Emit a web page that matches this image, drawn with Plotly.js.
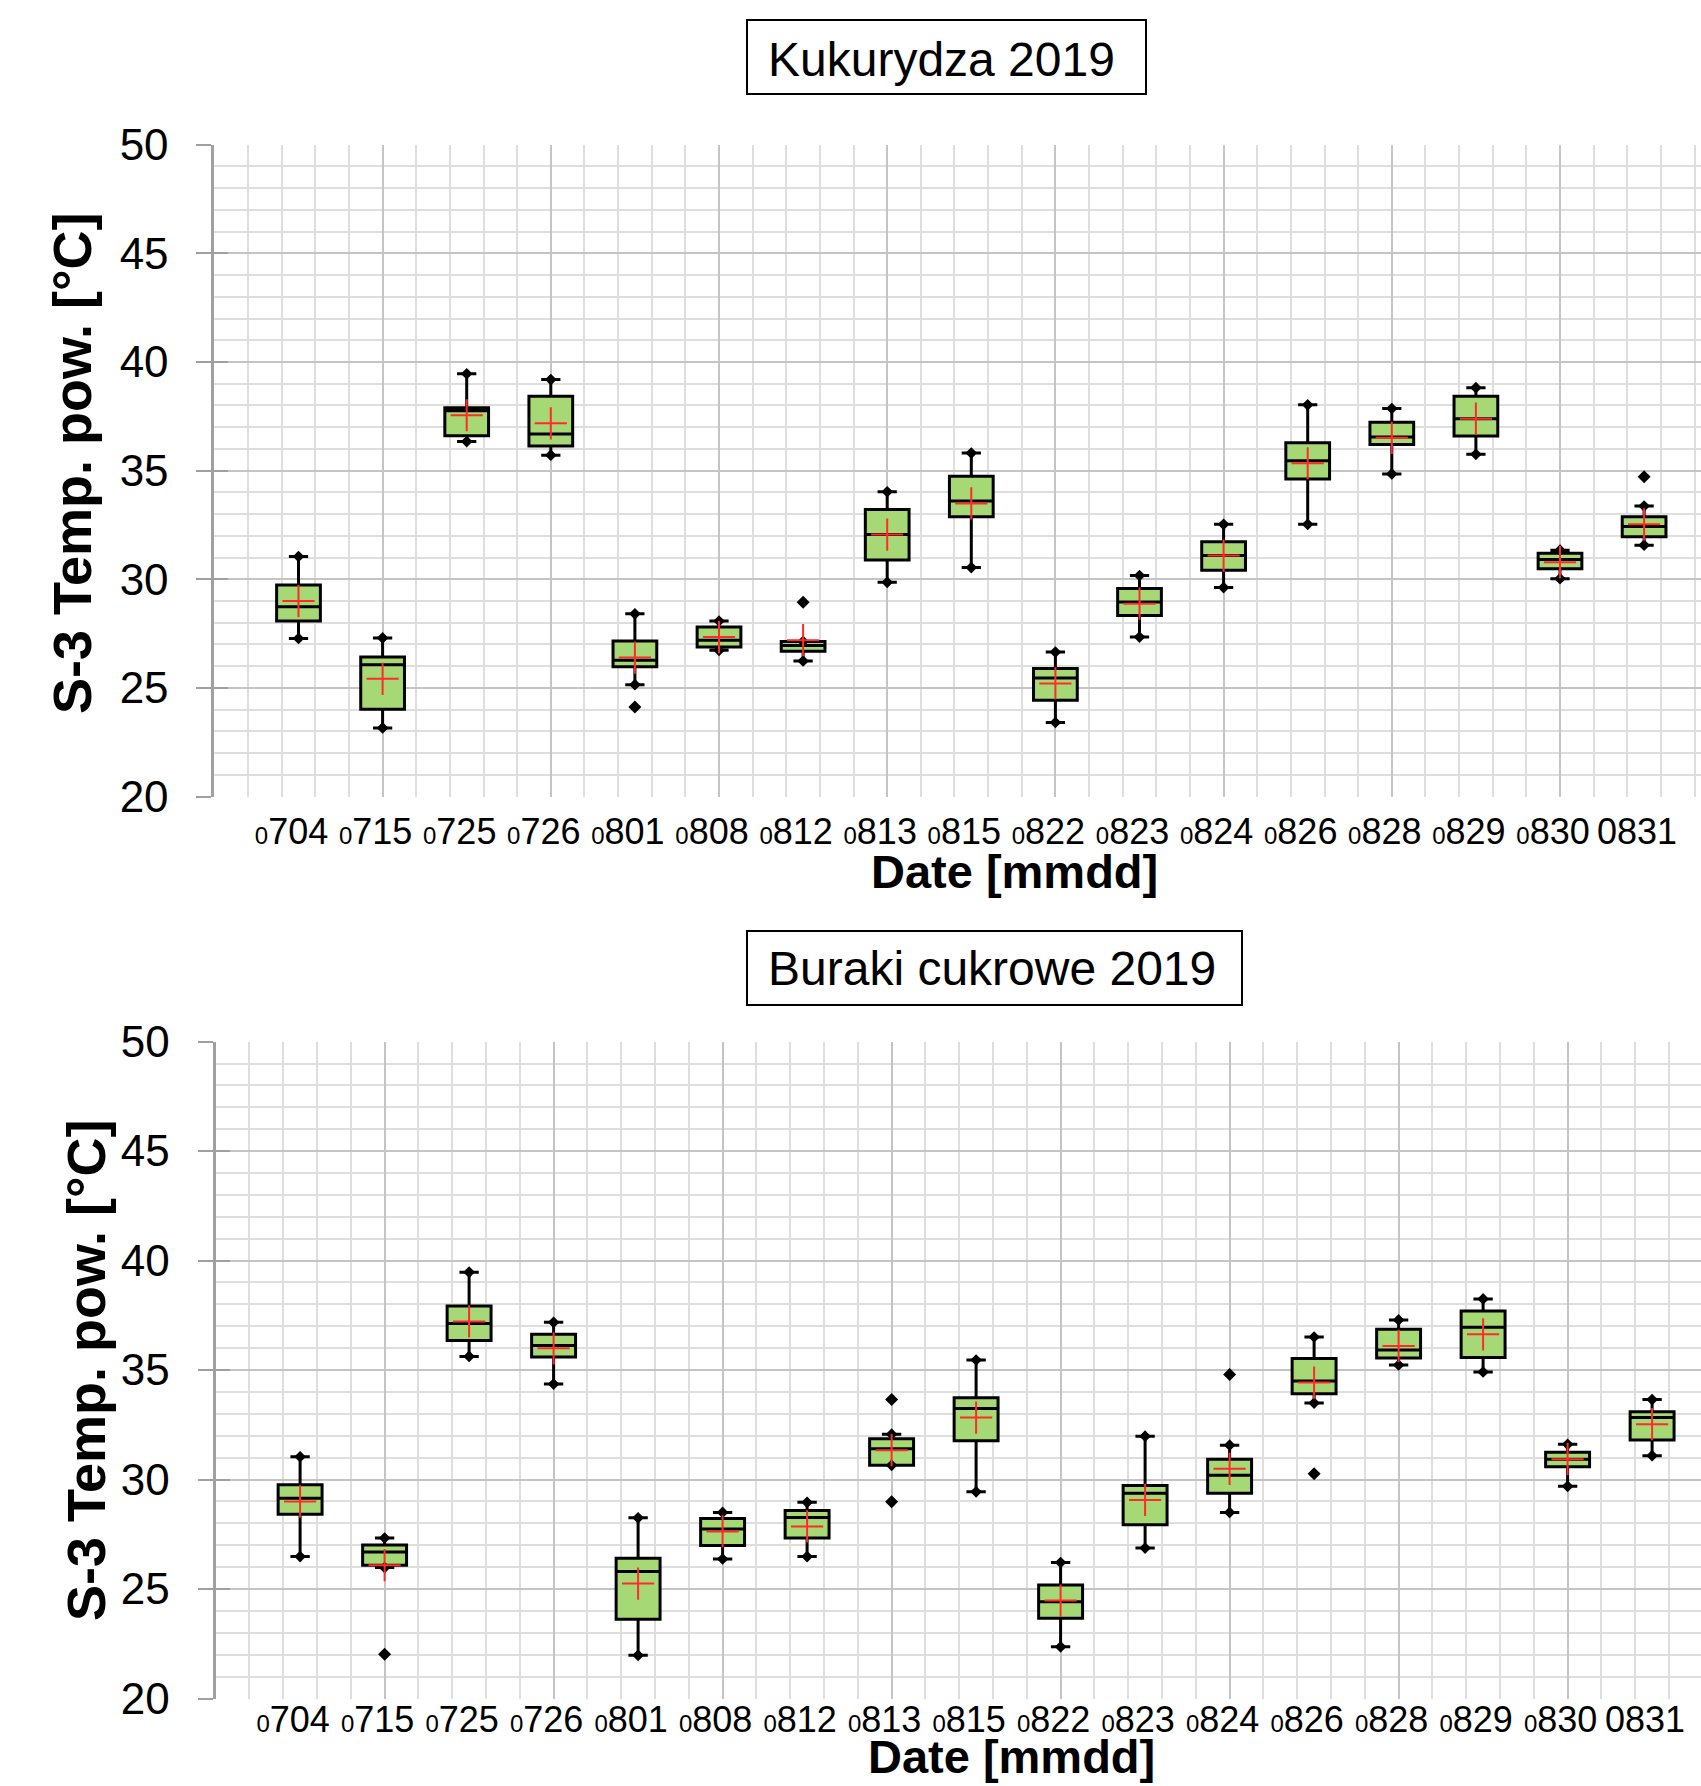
<!DOCTYPE html>
<html>
<head>
<meta charset="utf-8">
<script src="https://cdn.plot.ly/plotly-3.0.1.min.js"></script>
<style>html,body{margin:0;padding:0;background:#fff;}#chart{width:1701px;height:1786px;}</style>
</head>
<body>
<div id="chart"></div>
<script>
// ---- data ----
const dates = ['0704','0715','0725','0726','0801','0808','0812','0813','0815','0822','0823','0824','0826','0828','0829','0830','0831'];

// Kukurydza 2019
const kLower  = [27.28, 23.16, 36.34, 35.71, 25.15, 26.73, 26.24, 29.86, 30.54, 23.41, 27.34, 29.62, 32.53, 34.85, 35.75, 30.03, 31.57];
const kQ1     = [28.08, 24.02, 36.61, 36.14, 25.97, 26.89, 26.69, 30.89, 32.88, 24.43, 28.33, 30.42, 34.62, 36.20, 36.59, 30.48, 31.96];
const kMedian = [28.74, 26.07, 37.76, 36.69, 26.28, 27.20, 26.95, 32.06, 33.60, 25.46, 28.96, 31.09, 35.46, 36.55, 37.39, 30.91, 32.43];
const kQ3     = [29.74, 26.42, 37.90, 38.42, 27.16, 27.81, 27.14, 33.21, 34.74, 25.89, 29.58, 31.73, 36.28, 37.23, 38.42, 31.20, 32.88];
const kUpper  = [31.05, 27.30, 39.46, 39.19, 28.41, 28.08, 27.14, 34.03, 35.81, 26.65, 30.17, 32.53, 38.03, 37.86, 38.82, 31.34, 33.37];
const kMean   = [29.00, 25.42, 37.55, 37.18, 26.40, 27.34, 27.20, 32.06, 33.49, 25.21, 28.88, 31.09, 35.34, 36.51, 37.39, 30.79, 32.53];
const kOutDates  = ['0801', '0812', '0831'];
const kOutValues = [24.12, 28.94, 34.72];

// Buraki cukrowe 2019
const bLower  = [26.48, 25.98, 35.62, 34.36, 21.97, 26.37, 26.48, 30.65, 29.44, 22.36, 26.87, 28.50, 33.49, 35.23, 34.91, 29.69, 31.09];
const bQ1     = [28.41, 26.09, 36.35, 35.60, 23.62, 26.99, 27.33, 30.65, 31.77, 23.67, 27.93, 29.37, 33.92, 35.55, 35.57, 30.58, 31.80];
const bMedian = [29.14, 26.69, 37.13, 36.12, 25.80, 27.74, 28.27, 31.41, 33.24, 24.42, 29.37, 30.19, 34.50, 35.92, 36.95, 30.93, 32.83];
const bQ3     = [29.76, 27.01, 37.93, 36.63, 26.41, 28.22, 28.59, 31.86, 33.74, 25.18, 29.73, 30.93, 35.53, 36.86, 37.70, 31.25, 33.10];
const bUpper  = [31.04, 27.33, 39.47, 37.18, 28.25, 28.50, 28.96, 32.07, 35.46, 26.21, 31.98, 31.57, 36.51, 37.29, 38.25, 31.61, 33.65];
const bMean   = [29.00, 26.09, 37.22, 35.99, 25.25, 27.63, 27.86, 31.34, 32.83, 24.47, 29.07, 30.49, 34.43, 36.10, 36.63, 30.93, 32.53];
const bOutDates  = ['0715', '0813', '0813', '0824', '0826'];
const bOutValues = [22.02, 33.65, 28.98, 34.80, 30.26];

const titles = ['Kukurydza 2019', 'Buraki cukrowe 2019'];
const xTitle = 'Date [mmdd]';
const yTitle = 'S-3 Temp. pow. [°C]';

// ---- styling ----
const FONT = 'Liberation Sans, Arial, sans-serif';
const W = 1701, H = 1786;
const idx = dates.map((d, i) => i);
const tickText = dates.map(d => d === '0831' ? d :
  '<span style="font-size:24px">' + d.slice(0, 1) + '</span>' + d.slice(1));

function boxTraces(xa, ya, lower, q1, med, q3, upper, mean, outD, outV) {
  return [
    {type: 'box', xaxis: xa, yaxis: ya, x: idx, lowerfence: lower, q1: q1, median: med, q3: q3, upperfence: upper,
     width: 0.52, whiskerwidth: 0.44, fillcolor: '#a6d975', line: {color: '#000', width: 3},
     boxpoints: false, hoverinfo: 'skip'},
    {type: 'scatter', mode: 'markers', xaxis: xa, yaxis: ya, x: idx, y: upper,
     marker: {symbol: 'diamond', size: 9, color: '#000'}, hoverinfo: 'skip'},
    {type: 'scatter', mode: 'markers', xaxis: xa, yaxis: ya, x: idx, y: lower,
     marker: {symbol: 'diamond', size: 9, color: '#000'}, hoverinfo: 'skip'},
    {type: 'scatter', mode: 'markers', xaxis: xa, yaxis: ya, x: outD.map(d => dates.indexOf(d)), y: outV,
     marker: {symbol: 'diamond', size: 10, color: '#000'}, hoverinfo: 'skip'},
    {type: 'scatter', mode: 'markers', xaxis: xa, yaxis: ya, x: idx, y: mean,
     marker: {symbol: 'cross-thin', size: 23, color: '#ff2b2b', line: {color: '#ff2b2b', width: 2}}, hoverinfo: 'skip'}
  ];
}

const data = [].concat(
  boxTraces('x', 'y', kLower, kQ1, kMedian, kQ3, kUpper, kMean, kOutDates, kOutValues),
  boxTraces('x2', 'y2', bLower, bQ1, bMedian, bQ3, bUpper, bMean, bOutDates, bOutValues),
  [
    {type: 'scatter', xaxis: 'x3', yaxis: 'y', x: [], y: []},
    {type: 'scatter', xaxis: 'x', yaxis: 'y3', x: [], y: []},
    {type: 'scatter', xaxis: 'x4', yaxis: 'y2', x: [], y: []},
    {type: 'scatter', xaxis: 'x2', yaxis: 'y4', x: [], y: []}
  ]
);

// plot area positions (px from top-left)
const P = [
  {left: 214.4, top: 144.7, bottom: 796.6, catPx: 84.1, labelUp: 0, tickStand: 10,
   ytX: 72, ytY: 463, xtX: 1014, xtY: 871, box: [747, 20, 1146, 94], tX: 767, tY: 59},
  {left: 215.6, top: 1041.6, bottom: 1698.5, catPx: 84.5, labelUp: 3.5, tickStand: 0,
   ytX: 86, ytY: 1370, xtX: 1011, xtY: 1756, box: [747, 931, 1242, 1005], tX: 767, tY: 969}
];

function labelAxis(p, anchorY) {
  return {domain: [p.left / W, 1], anchor: 'free', position: 1 - (p.bottom - p.labelUp) / H,
    range: [-1, (W - p.left) / p.catPx - 1],
    tickmode: 'array', tickvals: idx, ticktext: tickText, ticks: '', showgrid: false, zeroline: false,
    showline: false, ticklabelstandoff: p.tickStand, ticklabelshift: -7,
    tickfont: {family: FONT, size: 36, color: '#000'}, fixedrange: true};
}
function gridXAxis(p, over, anchor) {
  return {overlaying: over, anchor: anchor, range: [-1, (W - p.left) / p.catPx - 1],
    tickmode: 'linear', tick0: 1, dtick: 2, showticklabels: false, ticks: '', zeroline: false,
    showgrid: true, gridcolor: '#c4c4c4', gridwidth: 2,
    minor: {tickmode: 'linear', tick0: -1, dtick: 0.4, showgrid: true, gridcolor: '#dedede', gridwidth: 2, ticks: ''},
    fixedrange: true};
}
function valueAxis(p, anchor) {
  return {domain: [1 - p.bottom / H, 1 - p.top / H], anchor: anchor, range: [20, 50],
    tickmode: 'linear', tick0: 20, dtick: 5, ticks: 'outside', ticklen: 15, tickwidth: 2, tickcolor: '#a0a0a0',
    ticklabelstandoff: 19, tickfont: {family: FONT, size: 44, color: '#000'},
    showline: true, linecolor: '#a0a0a0', linewidth: 3, zeroline: false,
    showgrid: true, gridcolor: '#c4c4c4', gridwidth: 2,
    minor: {tickmode: 'linear', tick0: 20, dtick: 1, showgrid: true, gridcolor: '#dedede', gridwidth: 2, ticks: ''},
    fixedrange: true};
}
function insideTickAxis(over, anchor) {
  return {overlaying: over, anchor: anchor, side: 'left', range: [20, 50], tickmode: 'linear', tick0: 20, dtick: 5,
    ticks: 'inside', ticklen: 14, tickwidth: 2, tickcolor: '#a0a0a0', showticklabels: false,
    showgrid: false, zeroline: false, showline: false, fixedrange: true};
}

const annotations = [];
const shapes = [];
P.forEach((p, i) => {
  shapes.push({type: 'rect', xref: 'paper', yref: 'paper', x0: p.box[0] / W, x1: p.box[2] / W,
    y0: 1 - p.box[3] / H, y1: 1 - p.box[1] / H, line: {color: '#000', width: 2}, fillcolor: 'rgba(0,0,0,0)'});
  annotations.push({xref: 'paper', yref: 'paper', x: p.tX / W, y: 1 - p.tY / H, xanchor: 'left', yanchor: 'middle',
    text: titles[i], showarrow: false, font: {family: FONT, size: 48, color: '#000'}, borderpad: 0});
  annotations.push({xref: 'paper', yref: 'paper', x: p.xtX / W, y: 1 - p.xtY / H, xanchor: 'center', yanchor: 'middle',
    text: xTitle, showarrow: false, font: {family: FONT, size: 47, color: '#000', weight: 'bold'}});
  annotations.push({xref: 'paper', yref: 'paper', x: p.ytX / W, y: 1 - p.ytY / H, xanchor: 'center', yanchor: 'middle',
    text: yTitle, textangle: -90, showarrow: false, font: {family: FONT, size: 54, color: '#000', weight: 'bold'}});
});

const layout = {
  width: W, height: H, margin: {l: 0, r: 0, t: 0, b: 0},
  paper_bgcolor: '#fff', plot_bgcolor: '#fff', showlegend: false, hovermode: false, boxmode: 'overlay',
  xaxis: labelAxis(P[0], 'y'), yaxis: valueAxis(P[0], 'x'),
  xaxis2: labelAxis(P[1], 'y2'), yaxis2: valueAxis(P[1], 'x2'),
  xaxis3: gridXAxis(P[0], 'x', 'y'), yaxis3: insideTickAxis('y', 'x'),
  xaxis4: gridXAxis(P[1], 'x2', 'y2'), yaxis4: insideTickAxis('y2', 'x2'),
  annotations: annotations, shapes: shapes
};

Plotly.newPlot('chart', data, layout, {staticPlot: true, displayModeBar: false});
</script>
</body>
</html>
